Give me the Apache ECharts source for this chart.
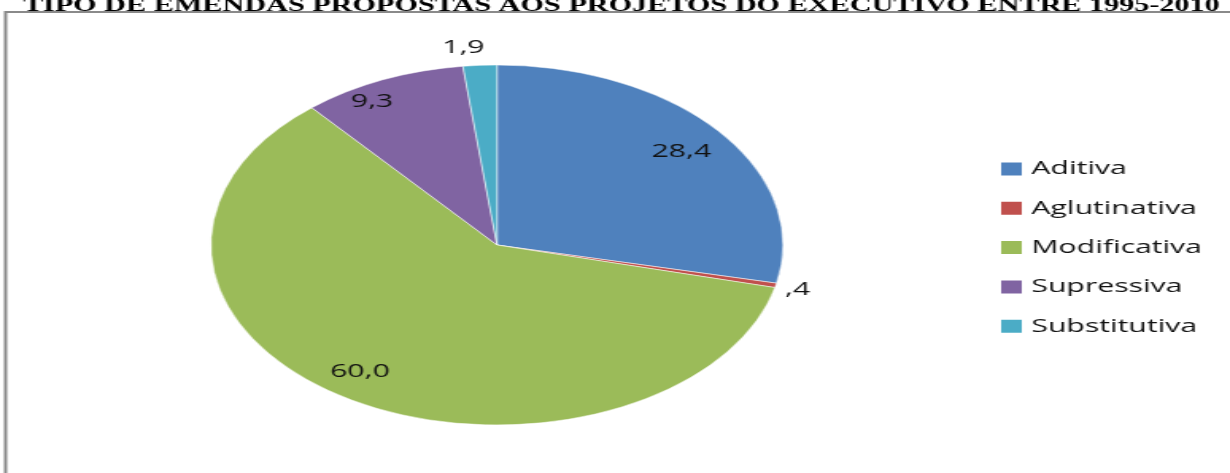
<!DOCTYPE html>
<html>
<head>
<meta charset="utf-8">
<script src="https://cdn.jsdelivr.net/npm/echarts@6/dist/echarts.min.js"></script>
<style>
html, body { margin: 0; padding: 0; background: #fff; overflow: hidden; width: 1230px; height: 473px; }
#chart { width: 774px; height: 473px; transform: scaleX(1.5891); transform-origin: 0 0; }
</style>
</head>
<body>
<div id="chart"></div>
<script>
const titleText = 'TIPO DE EMENDAS PROPOSTAS AOS PROJETOS DO EXECUTIVO ENTRE 1995-2010';
const categories = ['Aditiva', 'Aglutinativa', 'Modificativa', 'Supressiva', 'Substitutiva'];
const values = [28.4, 0.4, 60.0, 9.3, 1.9];
const labelTexts = ['28,4', ',4', '60,0', '9,3', '1,9'];
const colors = ['#4F81BD', '#C0504D', '#9BBB59', '#8064A2', '#4BACC6'];

const chart = echarts.init(document.getElementById('chart'));

const mainData = categories.map((c, i) => ({ name: c, value: values[i], itemStyle: { color: colors[i] } }));

const labelCfg = [
  { position: 'inside' },
  { position: 'outside', len: 5, offset: [-4, 3] },
  { position: 'inside', offset: [-8, 0] },
  { position: 'inside', offset: [-19, -7] },
  { position: 'outside', len: 18, offset: [9, 0] }
];

const labelData = categories.map((c, i) => {
  const cfg = labelCfg[i];
  const item = {
    name: c,
    value: values[i],
    label: { show: true, position: cfg.position, formatter: labelTexts[i] },
    labelLine: { show: false, length: cfg.len || 0, length2: 0 }
  };
  if (cfg.offset) item.label.offset = cfg.offset;
  return item;
});

chart.setOption({
  animation: false,
  graphic: [
    {
      type: 'rect',
      shape: { x: 3.5, y: 12, width: 900, height: 600 },
      style: { fill: 'none', stroke: '#8a8a8a', lineWidth: 2 },
      silent: true
    },
    {
      type: 'text',
      x: 391, y: 6,
      style: {
        text: titleText,
        font: 'bold 19px "Liberation Serif"',
        fill: '#000',
        align: 'center', verticalAlign: 'middle',
        textAlign: 'center', textVerticalAlign: 'middle'
      },
      silent: true
    }
  ],
  legend: {
    orient: 'vertical',
    left: 623,
    top: 154,
    data: categories,
    icon: 'rect',
    itemWidth: 15,
    itemHeight: 15,
    itemGap: 19.3,
    selectedMode: false,
    textStyle: { fontFamily: 'Open Sans', fontSize: 19, lineHeight: 20, color: '#111' }
  },
  series: [
    {
      type: 'pie',
      center: [312.75, 245],
      radius: [0, 180],
      startAngle: 90,
      clockwise: true,
      silent: true,
      label: { show: false },
      labelLine: { show: false },
      itemStyle: { borderColor: '#ffffff', borderWidth: 0.5 },
      data: mainData
    },
    {
      type: 'pie',
      center: [312.75, 245],
      radius: [112, 180],
      startAngle: 90,
      clockwise: true,
      silent: true,
      avoidLabelOverlap: false,
      legendHoverLink: false,
      itemStyle: { color: 'rgba(0,0,0,0)', borderWidth: 0 },
      label: { fontFamily: 'Open Sans', fontSize: 19, color: '#111' },
      data: labelData
    }
  ]
});
</script>
</body>
</html>
